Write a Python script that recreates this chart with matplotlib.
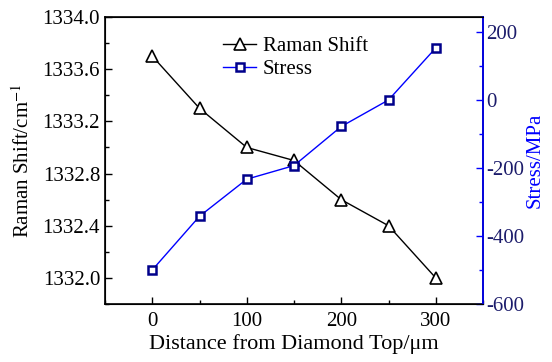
import matplotlib
matplotlib.use('Agg')
import matplotlib.pyplot as plt
from matplotlib.ticker import MultipleLocator, FormatStrFormatter

# data
distance = [0, 50, 100, 150, 200, 250, 300]
raman_shift = [1333.7, 1333.3, 1333.0, 1332.9, 1332.6, 1332.4, 1332.0]
stress = [-500, -342, -233, -193, -78, 0, 153]

plt.rcParams.update({
    'font.family': 'Liberation Serif',
    'font.size': 15,
    'xtick.direction': 'in',
    'ytick.direction': 'in',
    'mathtext.fontset': 'stix',
    'axes.unicode_minus': False,
})

fig = plt.figure(figsize=(5.52, 3.62), dpi=100)
ax = fig.add_axes([105/552, 1 - 304/362, 378/552, 287/362])
ax2 = ax.twinx()

l1, = ax.plot(distance, raman_shift, '-', color='black', lw=1.0,
              marker='^', ms=9, mfc='white', mec='black', mew=1.2, label='Raman Shift')
l2, = ax2.plot(distance, stress, '-', color='blue', lw=1.0,
               marker='s', ms=6, mfc='white', mec='#00008b', mew=1.8, label='Stress')

ax.set_xlim(-50, 350)
ax.set_ylim(1331.8, 1334.0)
ax2.set_ylim(-600, 244)

ax.xaxis.set_major_locator(MultipleLocator(100))
ax.xaxis.set_minor_locator(MultipleLocator(50))
ax.yaxis.set_major_locator(MultipleLocator(0.4))
ax.yaxis.set_minor_locator(MultipleLocator(0.2))
ax.yaxis.set_major_formatter(FormatStrFormatter('%.1f'))
ax2.yaxis.set_major_locator(MultipleLocator(200))
ax2.yaxis.set_minor_locator(MultipleLocator(100))

ax.tick_params(which='major', length=5, width=1, labelsize=15)
ax.tick_params(which='minor', length=3, width=1)
ax2.tick_params(which='major', length=5, width=1, labelsize=15, pad=2,
                color='blue', labelcolor='#1c1c6b')
ax2.tick_params(which='minor', length=3, width=1, color='blue')
ax.tick_params(axis='x', pad=6)

for sp in ax.spines.values():
    sp.set_linewidth(1.2)
ax2.spines['right'].set_color('blue')
ax2.spines['right'].set_linewidth(1.2)

ax.set_xlabel('Distance from Diamond Top/μm', fontsize=16, labelpad=2)
ax.set_ylabel('Raman Shift/cm$^{-1}$', fontsize=15, labelpad=6)
ax2.set_ylabel('Stress/MPa', fontsize=15, color='blue', labelpad=1)

ax.legend(handles=[l1, l2], loc='upper left', bbox_to_anchor=(0.29, 0.96),
          frameon=False, fontsize=15, handlelength=1.6, handletextpad=0.3,
          labelspacing=0.15, borderaxespad=0)

fig.savefig('out.png', dpi=100)
